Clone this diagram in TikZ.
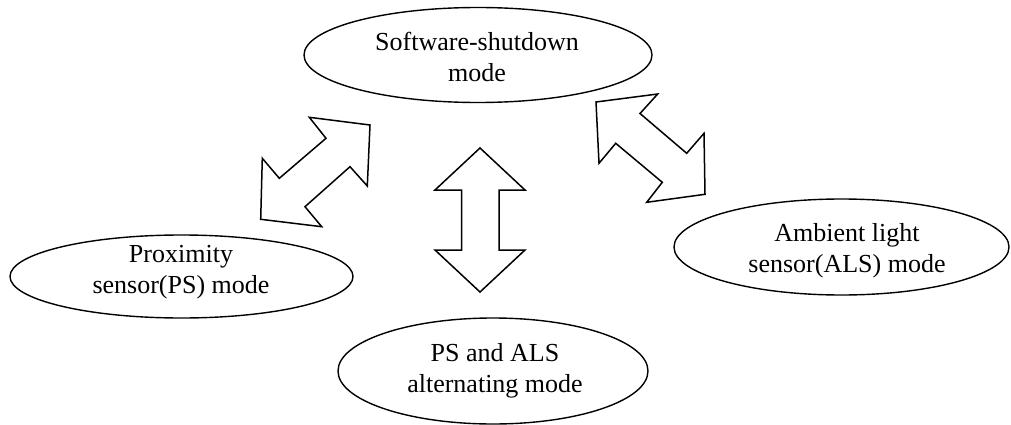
\documentclass[tikz,border=0pt]{standalone}
\usepackage{fontspec}
\setmainfont{Liberation Serif}
\usetikzlibrary{shapes.geometric}
\begin{document}
\begin{tikzpicture}[x=1pt,y=-1pt,
  modeell/.style={draw=black,line width=1.4pt,ellipse,inner sep=0pt},
  modetext/.style={align=center,inner sep=0pt,font=\fontsize{26}{31}\selectfont},
  blockarrow/.style={draw=black,line width=1.5pt,line join=miter,fill=white}]
\useasboundingbox (0,0) rectangle (1011,425);
% ellipses
\node[modeell,minimum width=348pt,minimum height=95pt] (sw) at (478,55) {};
\node[modeell,minimum width=343pt,minimum height=83pt] (ps) at (181.5,276.5) {};
\node[modeell,minimum width=335pt,minimum height=96pt] (als) at (841.5,247) {};
\node[modeell,minimum width=310pt,minimum height=106pt] (alt) at (493,371) {};
% texts
\node[modetext] (swt) at (477,57.4) {Software-shutdown\\mode};
\node[modetext] (pst) at (181,271.9) {Proximity\\sensor(PS) mode};
\node[modetext] (alst) at (847,250.6) {Ambient light\\sensor(ALS) mode};
\node[modetext] (altt) at (495,371.2) {PS and ALS\\alternating mode};
% block arrows
\draw[blockarrow] (309.3,117.3) -- (370,125) -- (367.3,186) -- (350,166.7) -- (305,206.7)
  -- (321.7,226.7) -- (260.7,219.3) -- (262.3,158.3) -- (279.3,178.3) -- (326,138.3) -- cycle;
\draw[blockarrow] (480,148) -- (525,190) -- (499,190) -- (499,250) -- (525,250) -- (480,292)
  -- (435,250) -- (461.5,250) -- (461.5,190) -- (435,190) -- cycle;
\draw[blockarrow] (596,102) -- (657.7,94) -- (640,113.5) -- (686.7,153.3) -- (704,133.3)
  -- (705,194.3) -- (646.7,202.3) -- (662.3,182.3) -- (615.7,143.3) -- (599,163.3) -- cycle;
\end{tikzpicture}
\end{document}
